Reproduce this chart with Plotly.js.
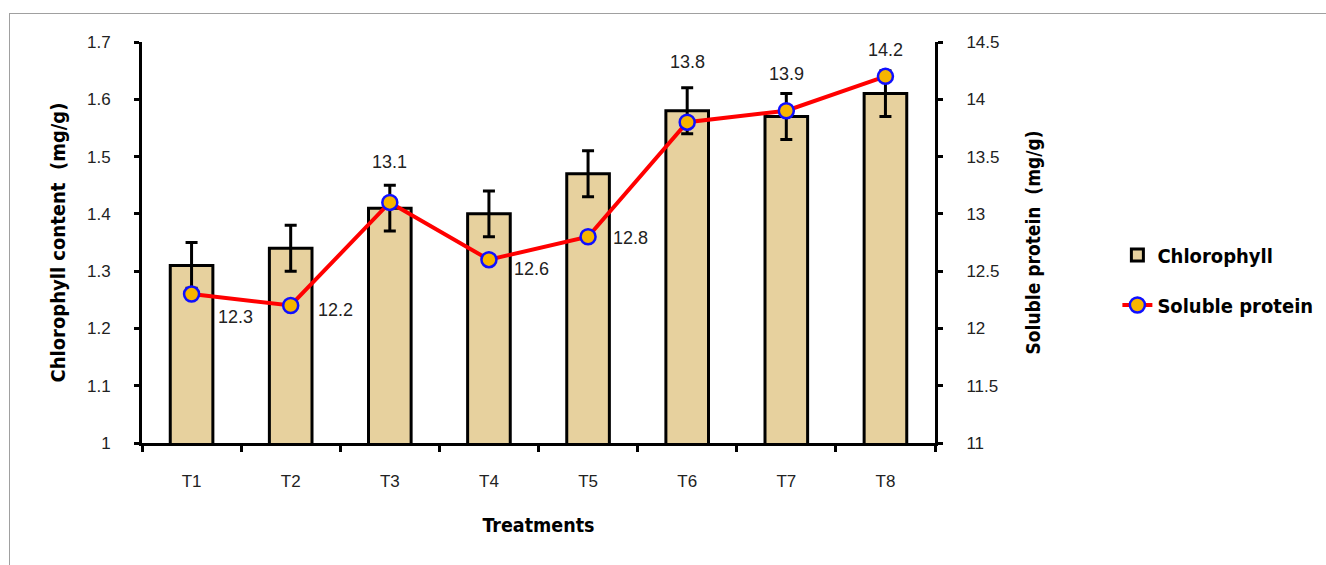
<!DOCTYPE html>
<html><head><meta charset="utf-8">
<script src="https://cdn.plot.ly/plotly-3.0.1.min.js"></script>
<style>
html,body{margin:0;padding:0;background:#fff;overflow:hidden;}
#frame{position:absolute;left:9px;top:13px;width:1400px;height:700px;border:1px solid #a0a0a0;}
#chart{position:absolute;left:0;top:0;width:1326px;height:565px;}
</style></head>
<body><div id="frame"></div><div id="chart"></div>
<script>
const treatments = ["T1","T2","T3","T4","T5","T6","T7","T8"];
const chlorophyll = [1.31,1.34,1.41,1.40,1.47,1.58,1.57,1.61];
const chlorophyllErr = [0.04,0.04,0.04,0.04,0.04,0.04,0.04,0.04];
const solubleProtein = [12.3,12.2,13.1,12.6,12.8,13.8,13.9,14.2];

// label placement (pixel offsets from each marker) - styling only
const labelShiftX = [24,25,0,23,23,0,0,0];
const labelShiftY = [-23,-4,40,-9,-1,60,37,26];

const FONT = "Liberation Sans, Arial, sans-serif";
const NARROW = "DejaVu Sans Condensed, Liberation Sans Narrow, Arial Narrow, Liberation Sans, sans-serif";

const bar = {
  type:"bar", name:"Chlorophyll", x:treatments, y:chlorophyll, width:0.43,
  marker:{color:"#E7D19E", line:{color:"#000", width:3}},
  error_y:{type:"data", array:chlorophyllErr, visible:true, color:"#000", thickness:3, width:6},
  legend:"legend"
};
const line = {
  type:"scatter", mode:"lines+markers", name:"Soluble protein", x:treatments, y:solubleProtein,
  yaxis:"y2", line:{color:"#FF0000", width:4},
  marker:{size:15, color:"#F7B500", line:{color:"#1010FF", width:2.5}},
  legend:"legend2"
};

const annotations = treatments.map((t,i)=>({
  x:t, y:solubleProtein[i], xref:"x", yref:"y2", text:String(solubleProtein[i]),
  showarrow:false, xanchor: labelShiftX[i] ? "left" : "center", yanchor:"middle",
  xshift:labelShiftX[i], yshift:labelShiftY[i],
  font:{family:FONT, size:18, color:"#222"}
}));

const legendFont = {family:NARROW, size:20, color:"#000", weight:"bold"};
const layout = {
  width:1326, height:565,
  paper_bgcolor:"rgba(0,0,0,0)", plot_bgcolor:"rgba(0,0,0,0)",
  margin:{l:142, r:391, t:42, b:122, autoexpand:false},
  showlegend:true,
  legend:{x:1.23, y:(443-255)/401, xanchor:"left", yanchor:"middle", font:legendFont, bgcolor:"rgba(0,0,0,0)"},
  legend2:{x:1.23, y:(443-305)/401, xanchor:"left", yanchor:"middle", font:legendFont, bgcolor:"rgba(0,0,0,0)"},
  xaxis:{range:[-0.5,7.5], showline:true, linecolor:"#000", linewidth:3,
    ticks:"outside", tickson:"boundaries", ticklen:6, tickwidth:3, tickcolor:"#000",
    ticklabelstandoff:21,
    tickfont:{family:FONT, size:17, color:"#222"},
    title:{text:"Treatments", standoff:28, font:{family:NARROW, size:19.5, color:"#000", weight:"bold"}},
    showgrid:false, zeroline:false},
  yaxis:{range:[1,1.7], dtick:0.1, showline:true, linecolor:"#000", linewidth:3,
    ticks:"outside", ticklen:5, tickwidth:3, tickcolor:"#000",
    ticklabelstandoff:20,
    tickfont:{family:FONT, size:17, color:"#222"}, tickformat:"~g",
    title:{text:"Chlorophyll content  (mg/g)", standoff:16, font:{family:NARROW, size:20, color:"#000", weight:"bold"}},
    showgrid:false, zeroline:false},
  yaxis2:{range:[11,14.5], dtick:0.5, overlaying:"y", side:"right", showline:true,
    linecolor:"#000", linewidth:3, ticks:"outside", ticklen:5, tickwidth:3, tickcolor:"#000",
    ticklabelstandoff:20,
    tickfont:{family:FONT, size:17, color:"#222"}, tickformat:"~g",
    title:{text:"Soluble protein  (mg/g)", standoff:29, font:{family:NARROW, size:19, color:"#000", weight:"bold"}},
    showgrid:false, zeroline:false},
  annotations:annotations
};

Plotly.newPlot("chart", [bar, line], layout, {displayModeBar:false, staticPlot:true});
</script></body></html>
